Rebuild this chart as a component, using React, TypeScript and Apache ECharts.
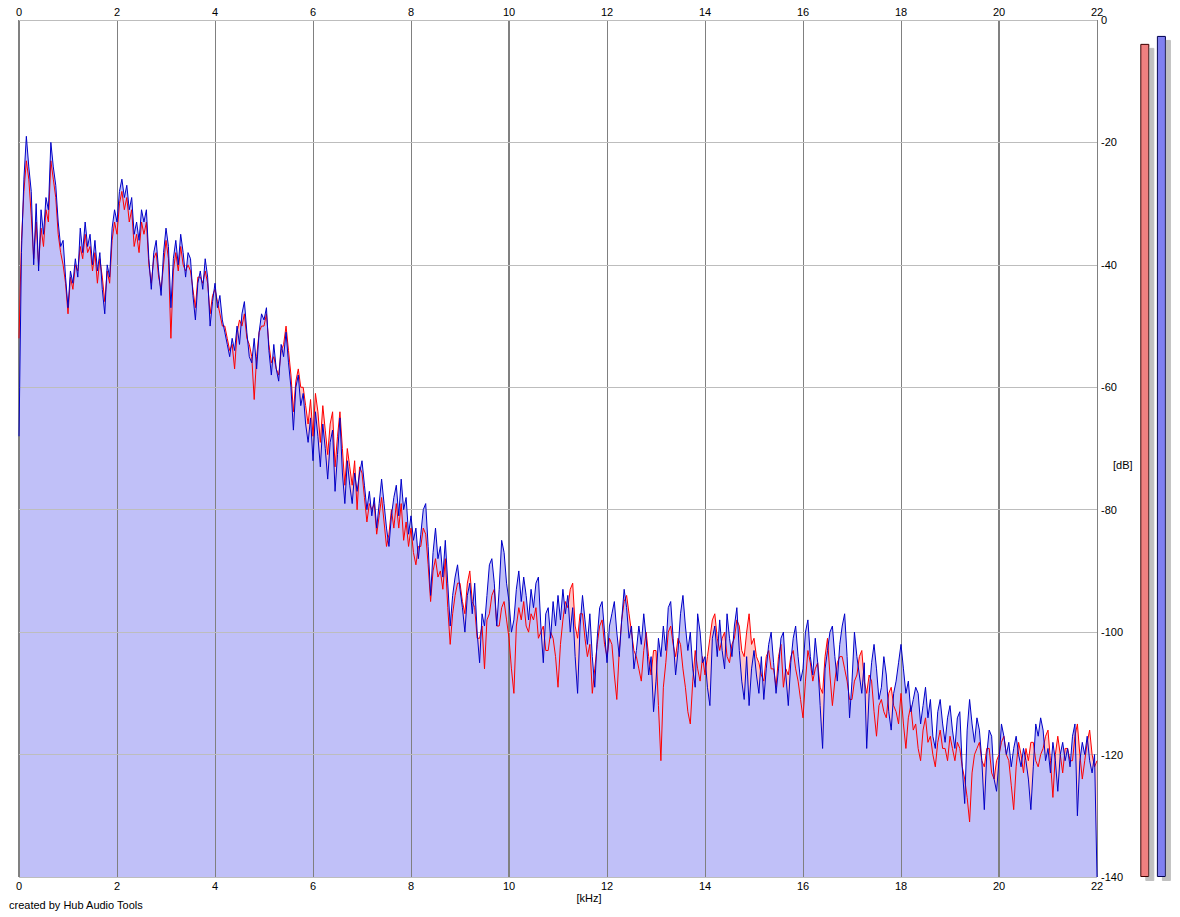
import React, { useEffect, useRef } from "react";
import * as echarts from "echarts";

// Frequency step between consecutive spectrum values (kHz)
const freqStepKHz = 0.05;

// Channel 1 (blue) spectrum, dB, 0.00 .. 22.00 kHz (one row per kHz)
const blueDb: number[] = [
  -68, -38, -26, -19, -24, -28, -40, -30, -41, -31, -35, -29, -31, -20, -24, -27, -33, -37, -36, -42,
  -47, -41, -43, -39, -42, -34, -38, -33, -37, -35, -40, -36, -41, -38, -44, -48, -40, -42, -34, -31,
  -33, -28, -26, -29, -27, -31, -29, -35, -33, -36, -31, -33, -31, -39, -44, -38, -36, -41, -45, -38,
  -34, -37, -47, -39, -36, -40, -35, -38, -42, -38, -39, -45, -49, -43, -41, -44, -39, -42, -50, -46,
  -43, -47, -45, -49, -51, -53, -55, -52, -54, -50, -53, -48, -46, -51, -55, -56, -52, -57, -51, -48,
  -49, -47, -54, -58, -53, -57, -59, -53, -55, -51, -56, -60, -67, -60, -58, -63, -61, -66, -69, -65,
  -72, -64, -68, -73, -66, -70, -75, -69, -67, -77, -71, -65, -74, -79, -72, -76, -79, -74, -77, -74,
  -72, -76, -80, -77, -81, -78, -83, -79, -75, -79, -83, -86, -81, -78, -76, -81, -75, -80, -78, -84,
  -81, -85, -83, -88, -84, -80, -79, -86, -94, -87, -83, -88, -86, -91, -85, -92, -99, -94, -91, -89,
  -93, -96, -100, -94, -92, -97, -92, -100, -105, -97, -99, -94, -89, -88, -92, -99, -93, -85, -87, -92,
  -95, -100, -98, -93, -90, -95, -91, -94, -98, -93, -96, -92, -91, -99, -105, -97, -96, -101, -95, -99,
  -94, -98, -93, -97, -94, -100, -96, -104, -110, -99, -94, -98, -102, -97, -104, -109, -101, -96, -95, -100,
  -105, -99, -97, -95, -100, -104, -98, -93, -96, -101, -99, -106, -103, -99, -102, -97, -101, -107, -104, -113,
  -108, -101, -104, -99, -103, -96, -95, -101, -107, -103, -97, -94, -99, -103, -100, -106, -109, -97, -100, -105,
  -104, -109, -112, -101, -99, -104, -98, -103, -106, -97, -101, -104, -99, -96, -103, -108, -111, -104, -112, -106,
  -103, -107, -110, -104, -111, -106, -102, -100, -105, -110, -106, -101, -100, -107, -112, -105, -101, -99, -104, -108,
  -106, -100, -98, -104, -107, -101, -105, -112, -119, -106, -103, -100, -99, -104, -108, -102, -99, -97, -104, -114,
  -108, -100, -104, -107, -110, -105, -119, -110, -105, -102, -106, -111, -109, -104, -107, -113, -116, -110, -108, -105,
  -102, -106, -110, -108, -113, -111, -109, -110, -115, -112, -109, -114, -111, -117, -119, -113, -111, -115, -118, -114,
  -112, -116, -119, -114, -113, -122, -128, -116, -111, -115, -118, -114, -116, -121, -129, -120, -116, -117, -124, -126,
  -121, -115, -117, -120, -118, -122, -119, -117, -120, -122, -119, -121, -124, -129, -122, -115, -117, -114, -116, -121,
  -119, -123, -118, -121, -126, -120, -118, -121, -119, -122, -117, -115, -130, -121, -118, -120, -117, -121, -123, -120,
  -140,
];

// Channel 2 (red) spectrum, dB, 0.00 .. 22.00 kHz (one row per kHz)
const redDb: number[] = [
  -52, -36, -28, -23, -26, -32, -39, -33, -40, -34, -37, -31, -33, -23, -26, -29, -35, -38, -40, -43,
  -48, -42, -44, -40, -41, -37, -39, -35, -38, -37, -41, -38, -43, -39, -42, -46, -41, -43, -36, -33,
  -35, -30, -28, -31, -29, -33, -31, -37, -35, -38, -33, -35, -33, -40, -43, -39, -38, -42, -44, -40,
  -36, -39, -52, -41, -38, -41, -37, -40, -41, -40, -41, -44, -47, -42, -42, -43, -41, -43, -48, -45,
  -44, -46, -48, -50, -50, -52, -54, -53, -57, -51, -49, -50, -48, -52, -53, -55, -62, -55, -51, -50,
  -50, -48, -53, -56, -55, -57, -58, -54, -53, -50, -54, -58, -64, -59, -57, -60, -60, -63, -66, -62,
  -68, -61, -64, -69, -63, -67, -71, -66, -64, -73, -68, -64, -70, -76, -70, -73, -76, -72, -80, -73,
  -74, -78, -82, -79, -80, -79, -84, -81, -78, -82, -86, -84, -80, -83, -79, -83, -79, -85, -82, -86,
  -83, -87, -89, -86, -86, -83, -84, -89, -95, -90, -88, -91, -90, -93, -88, -96, -102, -97, -94, -92,
  -92, -95, -97, -92, -90, -95, -96, -101, -101, -99, -106, -98, -97, -94, -93, -99, -99, -96, -95, -98,
  -101, -106, -110, -99, -96, -98, -95, -99, -100, -97, -98, -96, -101, -100, -99, -103, -103, -100, -101, -104,
  -109, -102, -98, -95, -96, -93, -92, -99, -101, -97, -97, -101, -104, -102, -110, -106, -102, -99, -98, -102,
  -104, -101, -102, -107, -111, -103, -98, -95, -94, -97, -100, -103, -104, -106, -108, -103, -100, -104, -107, -103,
  -103, -112, -121, -109, -105, -100, -99, -102, -104, -101, -102, -106, -109, -113, -115, -108, -103, -106, -108, -104,
  -107, -104, -101, -98, -97, -101, -103, -101, -100, -104, -105, -102, -101, -98, -99, -103, -104, -100, -97, -102,
  -101, -104, -105, -107, -108, -104, -103, -106, -106, -109, -104, -102, -109, -106, -107, -104, -103, -106, -108, -111,
  -114, -108, -103, -105, -108, -106, -105, -109, -110, -104, -101, -107, -112, -108, -105, -104, -104, -106, -108, -111,
  -111, -108, -107, -104, -103, -108, -110, -107, -108, -113, -117, -112, -111, -113, -114, -110, -109, -112, -113, -115,
  -110, -115, -119, -114, -112, -116, -115, -119, -121, -116, -114, -118, -117, -120, -122, -118, -116, -119, -119, -121,
  -117, -119, -121, -118, -119, -122, -124, -127, -131, -123, -120, -119, -118, -121, -122, -119, -119, -123, -124, -121,
  -120, -118, -117, -120, -121, -125, -129, -122, -118, -120, -123, -119, -121, -118, -118, -121, -122, -120, -119, -117,
  -116, -121, -127, -120, -117, -120, -123, -119, -119, -121, -121, -117, -115, -120, -124, -121, -118, -116, -120, -122,
  -121,
];

// Axis ticks
const freqTicksKHz: number[] = [0, 2, 4, 6, 8, 10, 12, 14, 16, 18, 20, 22];
const dbTicks: number[] = [0, -20, -40, -60, -80, -100, -120, -140];
const majorFreqLines: number[] = [0, 10, 20];

// Level meters (peak dB) for the two channels
const meterChannels: string[] = ["L", "R"];
const meterPeakDb: number[] = [-3.9, -2.6];

const FONT = "'Liberation Sans', Arial, sans-serif";

export default function App() {
  const ref = useRef<HTMLDivElement>(null);

  useEffect(() => {
    if (!ref.current) return;
    const chart = echarts.init(ref.current, undefined, { renderer: "svg" });

    const toPairs = (arr: number[]) =>
      arr.map((v, i) => [Number((i * freqStepKHz).toFixed(2)), v]);
    const blue = toPairs(blueDb);
    const red = toPairs(redDb);

    const gridMarkLines = [
      ...freqTicksKHz.map((f) => ({
        xAxis: f,
        lineStyle: {
          color: "#808080",
          width: majorFreqLines.includes(f) ? 2 : 1,
          type: "solid",
          opacity: 1,
        },
      })),
      ...dbTicks.map((d) => ({
        yAxis: d,
        lineStyle: { color: "#bdbdbd", width: 1, type: "solid", opacity: 1 },
      })),
    ];

    const minDb = dbTicks[dbTicks.length - 1];

    const axisLabel = { color: "#000", fontSize: 11, margin: 3, fontFamily: FONT };

    chart.setOption({
      animation: false,
      backgroundColor: "#ffffff",
      textStyle: { fontFamily: FONT },
      grid: [
        { left: 19, top: 20, width: 1078, height: 857 },
        { left: 1136.5, top: 20, width: 33.2, height: 857 },
      ],
      xAxis: [
        {
          type: "value",
          gridIndex: 0,
          min: 0,
          max: 22,
          interval: 2,
          position: "bottom",
          name: "[kHz]",
          nameLocation: "middle",
          nameGap: 15,
          nameMoveOverlap: false,
          nameTextStyle: {
            color: "#000",
            fontSize: 11,
            fontFamily: FONT,
            padding: [0, 0, 0, 62],
          },
          axisLine: { show: false },
          axisTick: { show: false },
          splitLine: { show: false },
          axisLabel,
        },
        {
          type: "value",
          gridIndex: 0,
          min: 0,
          max: 22,
          interval: 2,
          position: "top",
          axisLine: { show: false },
          axisTick: { show: false },
          splitLine: { show: false },
          axisLabel,
        },
        {
          type: "category",
          gridIndex: 1,
          data: meterChannels,
          show: false,
        },
      ],
      yAxis: [
        {
          type: "value",
          gridIndex: 0,
          min: minDb,
          max: 0,
          interval: 20,
          position: "right",
          name: "[dB]",
          nameLocation: "middle",
          nameRotate: 0,
          nameGap: 16,
          nameMoveOverlap: false,
          nameTextStyle: {
            color: "#000",
            fontSize: 11,
            fontFamily: FONT,
            verticalAlign: "top",
            lineHeight: 32,
          },
          axisLine: { show: false },
          axisTick: { show: false },
          splitLine: { show: false },
          axisLabel: { ...axisLabel, margin: 4 },
        },
        {
          type: "value",
          gridIndex: 1,
          min: 0,
          max: -minDb,
          show: false,
          splitLine: { show: false },
        },
      ],
      series: [
        {
          name: "redArea",
          type: "line",
          data: red,
          symbol: "none",
          silent: true,
          z: 1,
          lineStyle: { width: 0, opacity: 0 },
          areaStyle: { color: "#ffc6c6", opacity: 1, origin: "start" },
        },
        {
          name: "blueArea",
          type: "line",
          data: blue,
          symbol: "none",
          silent: true,
          z: 2,
          lineStyle: { width: 0, opacity: 0 },
          areaStyle: { color: "#c0c0f8", opacity: 1, origin: "start" },
        },
        {
          name: "gridLines",
          type: "line",
          data: [],
          symbol: "none",
          silent: true,
          z: 5,
          markLine: {
            silent: true,
            z: 5,
            symbol: "none",
            label: { show: false },
            emphasis: { disabled: true },
            data: gridMarkLines,
          },
        },
        {
          name: "red",
          type: "line",
          data: red,
          symbol: "none",
          z: 10,
          lineStyle: { color: "#ff0000", width: 1 },
        },
        {
          name: "blue",
          type: "line",
          data: blue,
          symbol: "none",
          z: 11,
          lineStyle: { color: "#0000c8", width: 1 },
        },
        {
          name: "meter",
          type: "bar",
          xAxisIndex: 2,
          yAxisIndex: 1,
          barWidth: 9,
          data: meterPeakDb.map((db, i) => ({
            value: db - minDb,
            itemStyle: {
              color: i === 0 ? "#f08080" : "#8080f0",
              borderColor: i === 0 ? "#3a0000" : "#000050",
              borderWidth: 1,
              shadowColor: "#c0c0c0",
              shadowBlur: 0,
              shadowOffsetX: 5,
              shadowOffsetY: 4,
            },
          })),
        },
      ],
      graphic: [
        {
          type: "text",
          left: 9,
          top: 899,
          style: {
            text: "created by Hub Audio Tools",
            fill: "#000",
            font: `11px ${FONT}`,
          },
        },
      ],
    });

    return () => chart.dispose();
  }, []);

  return (
    <div
      ref={ref}
      style={{ position: "absolute", left: 0, top: 0, width: 1180, height: 917 }}
    />
  );
}
